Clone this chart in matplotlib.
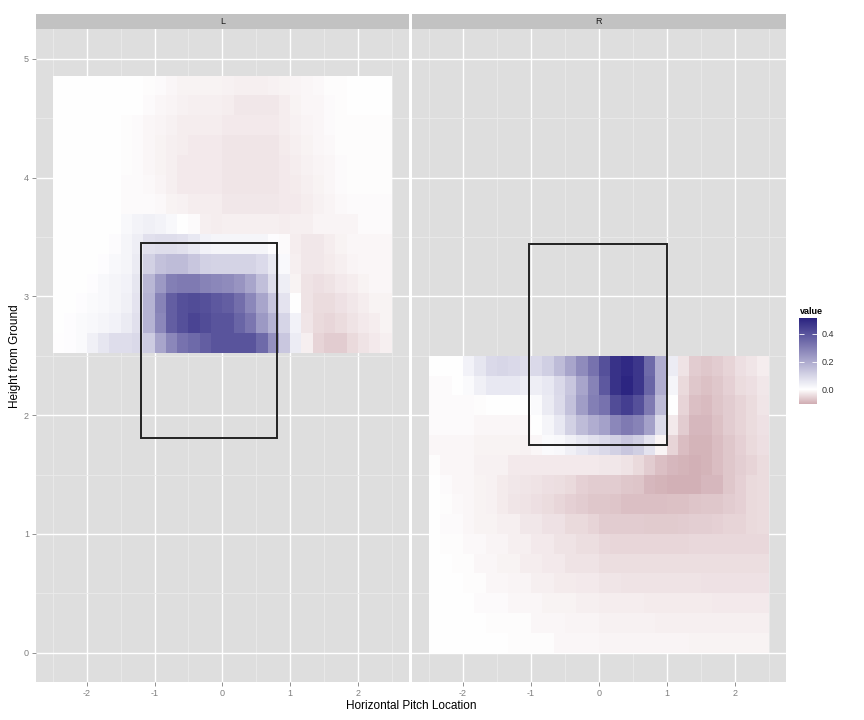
import numpy as np
import matplotlib
matplotlib.use("Agg")
import matplotlib.pyplot as plt
from matplotlib.colors import LinearSegmentedColormap, Normalize
from matplotlib.patches import Rectangle

plt.rcParams['font.family'] = ['Liberation Sans', 'DejaVu Sans']
plt.rcParams['axes.unicode_minus'] = False

# facet labels
facets = ["L", "R"]

# L panel: 14 rows (top -> bottom), 30 columns (left -> right)
lhb_values = [
    [0, 0, 0, 0, 0, 0, 0, 0, -0.004, -0.006, -0.01, -0.015, -0.015, -0.015, -0.015, -0.017, -0.019, -0.019, -0.019, -0.017, -0.014, -0.012, -0.009, -0.008, -0.004, -0.003, 0, 0, 0, 0],
    [0, 0, 0, 0, 0, 0, 0, 0, -0.005, -0.009, -0.013, -0.017, -0.019, -0.019, -0.019, -0.023, -0.029, -0.029, -0.029, -0.029, -0.022, -0.015, -0.010, -0.009, -0.005, -0.004, 0, 0, 0, 0],
    [0, 0, 0, 0, 0, 0, -0.004, -0.006, -0.009, -0.013, -0.018, -0.022, -0.022, -0.022, -0.022, -0.027, -0.027, -0.027, -0.027, -0.027, -0.023, -0.018, -0.013, -0.009, -0.005, -0.004, -0.002, -0.002, -0.002, -0.002],
    [0, 0, 0, 0, 0, 0, -0.004, -0.006, -0.01, -0.014, -0.019, -0.023, -0.026, -0.026, -0.026, -0.031, -0.031, -0.031, -0.031, -0.031, -0.024, -0.020, -0.015, -0.011, -0.008, -0.004, -0.003, -0.003, -0.003, -0.003],
    [0, 0, 0, 0, 0, 0, -0.004, -0.006, -0.01, -0.014, -0.019, -0.027, -0.027, -0.027, -0.027, -0.032, -0.032, -0.032, -0.032, -0.032, -0.026, -0.022, -0.018, -0.013, -0.009, -0.005, -0.004, -0.004, -0.004, -0.004],
    [0, 0, 0, 0, 0, 0, -0.005, -0.005, -0.008, -0.012, -0.019, -0.026, -0.026, -0.026, -0.026, -0.032, -0.032, -0.032, -0.032, -0.032, -0.028, -0.024, -0.020, -0.015, -0.010, -0.005, -0.004, -0.004, -0.004, -0.004],
    [0, 0, 0, 0, 0, 0, -0.005, -0.005, -0.005, -0.008, -0.014, -0.018, -0.023, -0.023, -0.023, -0.029, -0.029, -0.029, -0.029, -0.029, -0.028, -0.027, -0.023, -0.018, -0.013, -0.007, -0.006, -0.006, -0.006, -0.006],
    [0, 0, 0, 0, 0, 0, 0.017, 0.029, 0.036, 0.029, 0.017, 0, -0.006, -0.019, -0.022, -0.019, -0.019, -0.019, -0.019, -0.019, -0.022, -0.019, -0.019, -0.013, -0.013, -0.013, -0.013, -0.006, -0.006, -0.006],
    [0, 0, 0, 0, 0, 0.01, 0.024, 0.041, 0.073, 0.08, 0.08, 0.073, 0.056, 0.031, 0.024, 0.024, 0.024, 0.024, 0.024, 0.006, -0.005, -0.022, -0.029, -0.029, -0.022, -0.015, -0.009, -0.009, -0.009, -0.009],
    [0, 0, 0, 0, 0.007, 0.017, 0.024, 0.048, 0.109, 0.145, 0.157, 0.157, 0.133, 0.109, 0.104, 0.105, 0.105, 0.105, 0.088, 0.052, 0.015, -0.019, -0.029, -0.029, -0.024, -0.019, -0.013, -0.009, -0.009, -0.009],
    [0, 0, 0, 0.007, 0.017, 0.024, 0.031, 0.06, 0.169, 0.24, 0.30, 0.31, 0.31, 0.29, 0.28, 0.27, 0.25, 0.21, 0.15, 0.08, 0.04, -0.015, -0.035, -0.04, -0.035, -0.028, -0.023, -0.015, -0.01, -0.01],
    [0, 0, 0.007, 0.012, 0.017, 0.024, 0.036, 0.065, 0.18, 0.29, 0.375, 0.41, 0.42, 0.41, 0.39, 0.375, 0.34, 0.28, 0.21, 0.135, 0.065, 0, -0.035, -0.045, -0.045, -0.037, -0.029, -0.022, -0.014, -0.014],
    [0, 0.007, 0.012, 0.017, 0.024, 0.031, 0.048, 0.073, 0.18, 0.28, 0.375, 0.41, 0.435, 0.42, 0.40, 0.40, 0.36, 0.32, 0.24, 0.18, 0.10, 0.03, -0.032, -0.047, -0.051, -0.045, -0.035, -0.027, -0.022, -0.014],
    [0.004, 0.007, 0.012, 0.036, 0.06, 0.08, 0.08, 0.09, 0.121, 0.21, 0.28, 0.33, 0.35, 0.375, 0.40, 0.40, 0.40, 0.40, 0.35, 0.26, 0.13, 0.045, -0.02, -0.054, -0.064, -0.064, -0.047, -0.035, -0.027, -0.019],
]

# R panel: 15 rows (top -> bottom), 30 columns
rhb_values = [
    [0, 0, 0, 0.031, 0.06, 0.09, 0.097, 0.09, 0.08, 0.09, 0.114, 0.157, 0.21, 0.27, 0.33, 0.41, 0.48, 0.50, 0.47, 0.35, 0.19, 0.045, -0.035, -0.064, -0.07, -0.064, -0.054, -0.04, -0.032, -0.022],
    [-0.005, -0.005, 0, 0.012, 0.036, 0.056, 0.056, 0.056, 0.041, 0.041, 0.056, 0.09, 0.133, 0.21, 0.29, 0.39, 0.48, 0.51, 0.47, 0.36, 0.19, 0.024, -0.047, -0.07, -0.077, -0.07, -0.058, -0.045, -0.04, -0.029],
    [-0.006, -0.006, -0.006, -0.006, -0.004, 0, 0, 0, 0, 0.012, 0.048, 0.085, 0.145, 0.23, 0.30, 0.33, 0.42, 0.45, 0.41, 0.31, 0.157, 0, -0.054, -0.081, -0.086, -0.073, -0.064, -0.054, -0.045, -0.032],
    [-0.006, -0.006, -0.006, -0.006, -0.01, -0.01, -0.01, -0.01, -0.01, 0, 0.024, 0.056, 0.109, 0.157, 0.19, 0.22, 0.28, 0.31, 0.29, 0.22, 0.085, -0.026, -0.064, -0.09, -0.09, -0.077, -0.064, -0.054, -0.045, -0.037],
    [-0.009, -0.009, -0.009, -0.009, -0.014, -0.014, -0.014, -0.014, -0.017, -0.01, 0.012, 0.017, 0.036, 0.056, 0.073, 0.09, 0.109, 0.133, 0.114, 0.065, -0.013, -0.054, -0.083, -0.096, -0.096, -0.083, -0.07, -0.058, -0.047, -0.04],
    [-0.004, -0.01, -0.01, -0.01, -0.018, -0.018, -0.018, -0.027, -0.027, -0.027, -0.027, -0.027, -0.027, -0.027, -0.027, -0.029, -0.029, -0.035, -0.047, -0.064, -0.081, -0.09, -0.096, -0.099, -0.096, -0.083, -0.07, -0.061, -0.054, -0.045],
    [0, -0.006, -0.009, -0.01, -0.014, -0.018, -0.024, -0.029, -0.032, -0.035, -0.04, -0.042, -0.047, -0.058, -0.064, -0.064, -0.064, -0.07, -0.073, -0.09, -0.096, -0.099, -0.099, -0.099, -0.09, -0.09, -0.07, -0.058, -0.047, -0.045],
    [0, -0.004, -0.008, -0.01, -0.014, -0.018, -0.024, -0.031, -0.035, -0.04, -0.045, -0.052, -0.058, -0.064, -0.07, -0.07, -0.073, -0.081, -0.081, -0.081, -0.081, -0.077, -0.077, -0.073, -0.07, -0.07, -0.064, -0.058, -0.047, -0.045],
    [0, -0.005, -0.005, -0.009, -0.014, -0.014, -0.019, -0.019, -0.029, -0.029, -0.038, -0.038, -0.047, -0.047, -0.055, -0.064, -0.064, -0.064, -0.064, -0.066, -0.066, -0.066, -0.064, -0.061, -0.061, -0.058, -0.055, -0.054, -0.047, -0.045],
    [0, -0.004, -0.004, -0.008, -0.008, -0.013, -0.013, -0.019, -0.019, -0.027, -0.027, -0.035, -0.035, -0.042, -0.042, -0.05, -0.052, -0.052, -0.052, -0.052, -0.052, -0.052, -0.052, -0.05, -0.05, -0.05, -0.05, -0.05, -0.05, -0.05],
    [0, 0, -0.004, -0.004, -0.009, -0.009, -0.015, -0.015, -0.022, -0.022, -0.028, -0.028, -0.035, -0.035, -0.035, -0.042, -0.042, -0.042, -0.042, -0.042, -0.042, -0.042, -0.042, -0.042, -0.042, -0.042, -0.042, -0.042, -0.042, -0.042],
    [0, 0, 0, -0.004, -0.004, -0.009, -0.009, -0.013, -0.013, -0.019, -0.019, -0.024, -0.024, -0.027, -0.027, -0.033, -0.033, -0.035, -0.035, -0.035, -0.035, -0.035, -0.035, -0.035, -0.036, -0.036, -0.037, -0.037, -0.037, -0.037],
    [0, 0, 0, 0, -0.005, -0.005, -0.005, -0.009, -0.009, -0.009, -0.015, -0.015, -0.015, -0.019, -0.019, -0.022, -0.022, -0.022, -0.022, -0.024, -0.024, -0.024, -0.024, -0.024, -0.024, -0.026, -0.026, -0.026, -0.026, -0.026],
    [0, 0, 0, 0, 0, -0.004, -0.004, -0.004, -0.004, -0.009, -0.009, -0.009, -0.013, -0.013, -0.013, -0.017, -0.017, -0.017, -0.017, -0.017, -0.019, -0.019, -0.019, -0.019, -0.019, -0.019, -0.019, -0.019, -0.019, -0.019],
    [0, 0, 0, 0, 0, 0, 0, -0.004, -0.004, -0.004, -0.004, -0.009, -0.009, -0.009, -0.009, -0.012, -0.012, -0.012, -0.012, -0.013, -0.013, -0.013, -0.013, -0.015, -0.015, -0.015, -0.015, -0.015, -0.015, -0.015],
]

# grid extents (x range, y range) of each heat map
lhb_extent = (-2.5, 2.5, 2.525, 4.86)
rhb_extent = (-2.5, 2.5, 0.0, 2.5)

# strike zones: left, right, bottom, top
lhb_zone = (-1.2, 0.8, 1.81, 3.45)
rhb_zone = (-1.03, 1.0, 1.75, 3.44)

vmin, vmax = -0.106, 0.515
mid = -vmin / (vmax - vmin)
cmap = LinearSegmentedColormap.from_list(
    "pitch", [(0, "#D0ACB2"), (mid, "white"), (1, "#2A2380")])
norm = Normalize(vmin, vmax)

W, H = 864, 720
fig = plt.figure(figsize=(W / 100, H / 100), dpi=100)


def box(x0, y0, x1, y1):
    # pixel box -> figure fraction
    return [x0 / W, 1 - y1 / H, (x1 - x0) / W, (y1 - y0) / H]


panels = [(36, 412), (408.7, 785.7)]
data = [lhb_values, rhb_values]
extents = [lhb_extent, rhb_extent]
zones = [lhb_zone, rhb_zone]

mesh = None
for i in range(2):
    x0, x1 = panels[0][i], panels[1][i]
    ax = fig.add_axes(box(x0, 29.3, x1, 682.3))
    ax.set_facecolor("#DEDEDE")
    vals = np.array(data[i])[::-1]
    ex = extents[i]
    xe = np.linspace(ex[0], ex[1], vals.shape[1] + 1)
    ye = np.linspace(ex[2], ex[3], vals.shape[0] + 1)
    mesh = ax.pcolormesh(xe, ye, vals, cmap=cmap, norm=norm, zorder=1)
    z = zones[i]
    ax.add_patch(Rectangle((z[0], z[2]), z[1] - z[0], z[3] - z[2], fill=False,
                           ec="#222222", lw=1.4, zorder=3))
    ax.set_xlim(-2.75, 2.75)
    ax.set_ylim(-0.25, 5.25)
    ax.set_xticks([-2, -1, 0, 1, 2])
    ax.set_xticks(np.arange(-2.5, 2.6, 1.0), minor=True)
    ax.set_yticks([0, 1, 2, 3, 4, 5])
    ax.set_yticks(np.arange(0.5, 5.0, 1.0), minor=True)
    ax.set_axisbelow(True)
    ax.grid(which="major", color="white", lw=1.0)
    ax.grid(which="minor", color="#EBEBEB", lw=0.6)
    for s in ax.spines.values():
        s.set_visible(False)
    ax.tick_params(which="major", length=3, width=0.6, color="#7F7F7F",
                   labelsize=6.5, labelcolor="#7F7F7F", pad=2)
    ax.tick_params(which="minor", length=0)
    if i == 1:
        ax.tick_params(left=False, labelleft=False)

    # facet strip
    sax = fig.add_axes(box(x0, 14, x1, 29.3))
    sax.set_facecolor("#C2C2C2")
    sax.set_xticks([])
    sax.set_yticks([])
    for s in sax.spines.values():
        s.set_visible(False)
    sax.text(0.5, 0.5, facets[i], ha="center", va="center", fontsize=6.5,
             color="#1A1A1A", transform=sax.transAxes)

fig.text((36 + 785.7) / 2 / W, 1 - 706 / H, "Horizontal Pitch Location",
         ha="center", va="center", fontsize=8.5)
fig.text(15 / W, 1 - 355.8 / H, "Height from Ground", ha="center",
         va="center", rotation=90, fontsize=8.5)

# legend colour bar
cax = fig.add_axes(box(799.3, 318, 817.3, 404))
cb = fig.colorbar(mesh, cax=cax, ticks=[0.0, 0.2, 0.4])
cb.outline.set_visible(False)
cb.ax.set_yticklabels(["0.0", "0.2", "0.4"])
cax.yaxis.set_ticks_position("both")
cax.tick_params(direction="in", length=3.5, width=0.6, color="white",
                labelleft=False, labelright=True, labelsize=6.5,
                labelcolor="#333333", pad=3)
fig.text(800 / W, 1 - 311.5 / H, "value", fontsize=6.5, fontweight="bold",
         ha="left", va="center")

fig.savefig("out.png", dpi=100)
